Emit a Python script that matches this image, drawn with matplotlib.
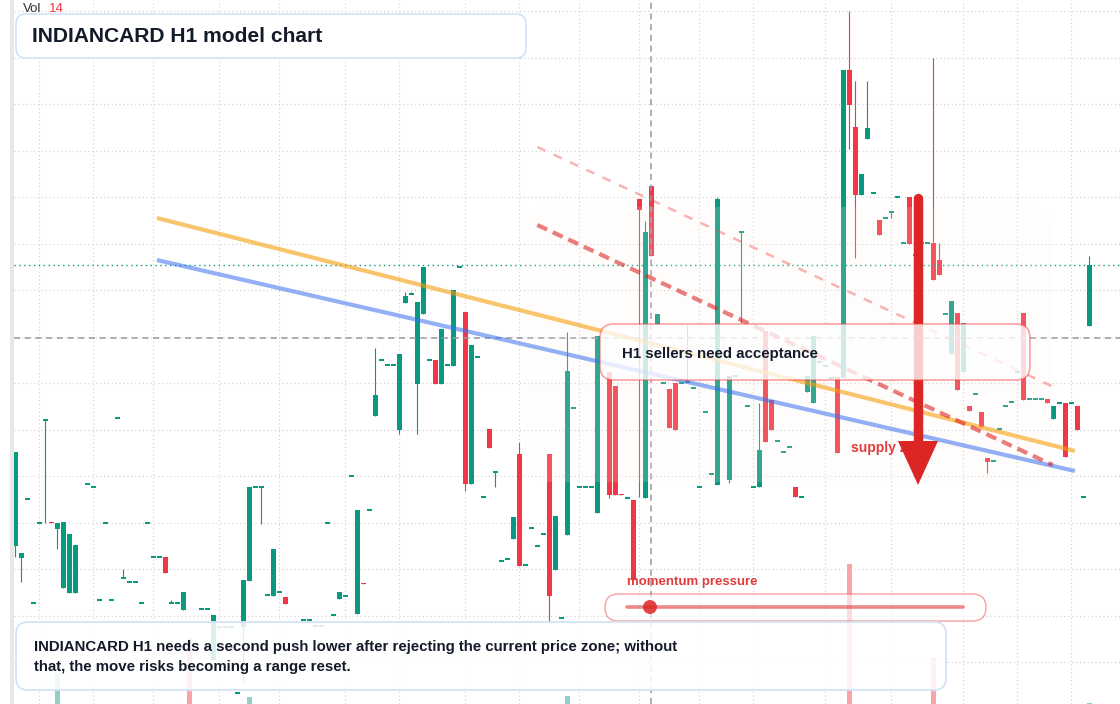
import matplotlib
matplotlib.use("Agg")
import matplotlib.pyplot as plt
import numpy as np
from matplotlib.patches import FancyBboxPatch, Polygon, Rectangle, Circle
from matplotlib.transforms import IdentityTransform
from matplotlib.colors import to_rgba

plt.rcParams['font.family'] = ['Liberation Sans', 'DejaVu Sans']

nan = np.nan

# H1 candles (price units)
opens = [295.4, 294.2, 300.1, 289.7, 297.7, 308.0, 297.8, 297.1, 291.2, 290.7,
         290.7, nan, 301.6, 301.3, 290.0, 297.7, 290.0, 308.2, 292.2, 291.8,
         291.8, 289.7, 297.7, 294.3, 294.3, 294.3, 289.7, 289.7, 289.0, nan,
         nan, 289.1, 289.1, 284.0, 287.3, 287.3, 287.3, 280.7, 287.3, 291.9,
         301.3, 301.3, 290.5, 290.4, 290.8, 290.3, nan, nan, 288.0, 288.0,
         287.4, 287.4, 297.7, 288.5, 290.1, 290.4, 302.4, 288.6, 291.7, 299.0,
         308.4, 314.0, 313.5, 313.5, 307.0, 319.7, 320.6, 311.6, 318.6, 314.0,
         314.0, 311.6, 313.5, 313.4, 323.3, 318.8, 301.6, 314.3, 300.3, 307.1,
         302.8, 293.9, 294.1, 296.1, 304.6, 293.5, 297.2, 295.4, 296.6, 304.6,
         293.0, 288.2, 296.5, 309.2, 301.3, 301.3, 301.3, 298.7, nan, 312.8,
         311.4, 300.6, 300.2, 300.0, 330.1, 300.2, 331.4, 317.5, 311.7, 311.1,
         311.7, 311.7, 311.8, 311.2, 301.3, 308.8, 302.6, 301.5, nan, 302.0,
         312.4, 326.8, 309.4, 301.3, 301.3, 316.9, 310.0, 305.9, 304.8, 305.3,
         301.3, 300.3, 310.8, 309.7, 313.8, 313.4, 312.2, 312.3, 312.2, 343.0,
         337.3, 330.5, 336.1, 330.7, 328.0, 328.2, 328.8, 330.3, 325.7, 330.3,
         324.5, 325.7, 325.7, 325.7, 324.0, 318.6, 314.6, 318.7, 312.8, 309.4,
         310.6, 308.8, 304.2, 303.9, 307.1, 309.4, 309.8, 312.8, 318.7, 310.1,
         310.1, 310.1, 310.1, 308.1, 309.7, 309.7, 309.7, 309.4, 300.3, 317.4]

highs = [304.8, 294.7, 300.1, 289.7, 297.7, 308.0, 297.8, 297.7, 297.8, 296.6,
         295.5, nan, 301.6, 301.3, 290.0, 297.7, 290.0, 308.2, 293.1, 291.8,
         291.8, 289.7, 297.7, 294.3, 294.3, 294.3, 290.0, 289.7, 290.8, nan,
         nan, 289.1, 289.1, 288.5, 287.3, 287.3, 287.3, 280.7, 292.0, 301.3,
         301.3, 301.3, 290.5, 295.1, 290.8, 290.3, nan, nan, 288.0, 288.0,
         287.4, 287.4, 297.7, 288.5, 290.8, 290.4, 302.4, 299.0, 291.7, 299.0,
         315.2, 314.0, 313.5, 313.5, 314.6, 320.8, 320.8, 319.8, 323.3, 314.0,
         314.0, 317.1, 313.5, 321.0, 323.3, 318.8, 315.5, 314.3, 300.3, 307.1,
         302.8, 293.9, 294.1, 298.3, 305.8, 293.5, 297.2, 295.4, 296.6, 304.6,
         298.4, 288.2, 316.8, 309.2, 301.3, 301.3, 301.3, 316.4, nan, 312.8,
         311.4, 300.6, 300.2, 300.0, 330.1, 327.9, 331.4, 318.6, 311.7, 311.1,
         311.7, 311.7, 317.5, 311.2, 301.3, 308.8, 302.6, 330.3, nan, 312.4,
         312.4, 326.8, 309.4, 301.3, 309.7, 316.9, 310.0, 305.9, 304.8, 305.3,
         301.3, 300.3, 312.4, 316.4, 313.8, 313.4, 312.2, 312.3, 343.0, 348.9,
         341.9, 332.6, 341.9, 330.7, 328.0, 328.2, 328.8, 330.3, 325.7, 330.3,
         324.5, 325.7, 325.7, 344.2, 325.7, 318.6, 319.9, 318.7, 317.7, 309.4,
         310.6, 308.8, 304.2, 303.9, 307.1, 309.4, 309.8, 312.8, 318.7, 310.1,
         310.1, 310.1, 310.1, 309.4, 309.7, 309.7, 309.7, 309.4, 300.3, 324.4]

lows = [294.3, 291.8, 300.1, 289.7, 297.7, 297.7, 297.7, 295.1, 291.2, 290.7,
        290.7, nan, 301.6, 301.3, 290.0, 297.7, 290.0, 308.2, 292.2, 291.8,
        291.8, 289.7, 297.7, 294.3, 294.3, 292.7, 289.7, 289.7, 289.0, nan,
        nan, 289.1, 289.1, 284.0, 287.3, 287.3, 287.3, 280.7, 281.8, 291.9,
        301.3, 297.6, 290.5, 290.4, 290.8, 289.6, nan, nan, 288.0, 288.0,
        287.4, 287.4, 297.7, 288.5, 290.1, 290.4, 302.4, 288.6, 291.6, 299.0,
        308.4, 314.0, 313.5, 313.5, 306.6, 319.7, 320.6, 306.6, 318.6, 314.0,
        311.6, 311.6, 313.5, 313.4, 323.3, 300.9, 301.6, 314.3, 300.3, 305.2,
        301.3, 293.9, 294.1, 296.1, 293.4, 293.5, 297.2, 295.4, 296.6, 287.7,
        293.0, 288.2, 296.5, 309.2, 301.3, 301.3, 301.3, 298.7, nan, 300.2,
        300.5, 300.5, 300.2, 292.0, 300.3, 300.2, 324.4, 317.5, 311.7, 307.2,
        307.0, 311.7, 311.8, 311.2, 301.3, 308.8, 302.6, 301.5, nan, 301.7,
        312.4, 317.7, 309.4, 301.3, 301.3, 305.8, 307.0, 305.9, 304.8, 305.3,
        300.3, 300.3, 310.8, 309.7, 313.8, 313.4, 312.2, 304.7, 312.2, 335.1,
        324.2, 330.5, 336.1, 330.7, 326.5, 328.2, 328.2, 330.3, 325.7, 325.6,
        324.5, 325.7, 325.7, 322.0, 322.5, 318.6, 314.6, 311.0, 312.8, 308.9,
        310.6, 307.3, 302.7, 303.9, 307.1, 309.4, 309.8, 312.8, 310.0, 310.1,
        310.1, 310.1, 309.7, 308.1, 309.7, 304.3, 309.7, 307.0, 300.3, 317.4]

closes = [304.8, 294.7, 300.1, 289.7, 297.7, 308.0, 297.7, 297.7, 297.8, 296.6,
          295.5, nan, 301.6, 301.3, 290.0, 297.7, 290.0, 308.2, 292.2, 291.8,
          291.8, 289.7, 297.7, 294.3, 294.3, 292.7, 289.7, 289.7, 290.8, nan,
          nan, 289.1, 289.1, 288.5, 287.3, 287.3, 287.3, 280.7, 292.0, 301.3,
          301.3, 301.3, 290.5, 295.1, 290.8, 289.6, nan, nan, 288.0, 288.0,
          287.4, 287.4, 297.7, 288.5, 290.8, 290.4, 302.4, 299.0, 291.6, 299.0,
          310.5, 314.0, 313.5, 313.5, 314.6, 320.4, 320.6, 319.8, 323.3, 314.0,
          311.6, 317.1, 313.5, 321.0, 323.3, 301.6, 315.5, 314.3, 300.3, 305.2,
          302.8, 293.9, 294.1, 298.3, 293.4, 293.5, 297.2, 295.4, 296.6, 290.4,
          298.4, 288.2, 312.9, 309.2, 301.3, 301.3, 301.3, 316.4, nan, 300.5,
          300.5, 300.5, 300.2, 292.0, 329.0, 326.8, 324.4, 318.6, 311.7, 307.2,
          307.0, 311.7, 311.8, 311.2, 301.3, 308.8, 302.6, 330.1, nan, 312.4,
          312.4, 326.8, 309.4, 301.3, 305.0, 305.8, 307.0, 305.9, 304.8, 305.3,
          300.3, 300.3, 312.4, 316.4, 313.8, 313.4, 312.2, 304.7, 343.0, 339.5,
          330.5, 332.6, 337.2, 330.7, 326.5, 328.2, 328.8, 330.3, 325.7, 325.6,
          324.5, 325.7, 325.7, 322.0, 322.5, 318.6, 319.9, 311.0, 317.7, 308.9,
          310.6, 307.3, 303.8, 303.9, 307.1, 309.4, 309.8, 312.8, 310.0, 310.1,
          310.1, 310.1, 309.7, 309.4, 309.7, 304.3, 309.7, 307.0, 300.3, 323.5]

# volume (only the bars that show)
vol_index = [7, 29, 39, 92, 139, 153, 179]
vol_value = [443, 943, 100, 114, 2000, 671, 14]

# drawn levels
trend_x = [23.6, 176.6]
orange_y = [328.2, 304.9]
blue_y = [324.0, 302.9]
dash_x = [87.0, 172.9]
dash_y = [327.5, 303.5]
dash2_x = [87.0, 172.7]
dash2_y = [335.3, 311.4]
cross_idx = 106
cross_price = 316.2

vgrid_idx = [4, 13, 23, 34, 44, 55, 64, 75, 84, 94, 104, 114, 123, 135, 146, 158, 167, 176]

GREEN = '#089981'
RED = '#f23645'
INK = '#131a2a'

W, H = 1120, 704
PX = IdentityTransform()

fig = plt.figure(figsize=(W / 100, H / 100), dpi=100)
fig.patch.set_facecolor('white')
ax = fig.add_axes([14 / W, 0, 1 - 14 / W, 1])
vax = ax.twinx()
ax.set_zorder(2)
vax.set_zorder(1)
ax.patch.set_visible(False)

o = np.array(opens)
h = np.array(highs)
l = np.array(lows)
c = np.array(closes)
x = np.arange(len(o))
ok = ~np.isnan(o)
col = np.where(c >= o, GREEN, RED)

# wicks + bodies
ax.vlines(x[ok], l[ok], h[ok], colors=col[ok], lw=0.8, zorder=2)
body = np.abs(c - o)
bh = np.maximum(body, 0.18)
ax.bar(x[ok], bh[ok], bottom=(np.minimum(o, c) - (bh - body) / 2)[ok], width=0.78,
       color=col[ok], linewidth=0, zorder=2.1)

# volume
vcol = [GREEN if c[i] >= o[i] else RED for i in vol_index]
vax.bar(vol_index, vol_value, width=0.78, color=vcol, alpha=0.45, linewidth=0)
vax.set_ylim(0, max(vol_value) * H / 140)
vax.axis('off')

# grid + crosshair + last price
ax.set_xticks(vgrid_idx)
ax.set_yticks(348.9 - 4.65 * np.arange(15))
ax.grid(True, color='#cfcfcf', lw=0.8, linestyle=(0, (1, 2.5)))
ax.set_axisbelow(True)
ax.tick_params(length=0, labelleft=False, labelbottom=False)
for s in ax.spines.values():
    s.set_visible(False)
ax.axhline(cross_price, color='#9598a1', lw=1.1, linestyle=(0, (4, 3)), zorder=2.5)
ax.axvline(cross_idx, color='#9598a1', lw=1.1, linestyle=(0, (4, 3)), zorder=2.5)
ax.axhline(c[-1], color=GREEN, lw=1.0, linestyle=(0, (1, 2.5)), zorder=2.5)


def box(x0, y0, x1, y1, r, fc, ec, lw, z):
    p = FancyBboxPatch((x0, H - y1), x1 - x0, y1 - y0,
                       boxstyle=f"round,pad=0,rounding_size={r}",
                       transform=PX, fc=fc, ec=ec, lw=lw, zorder=z, clip_on=False)
    ax.add_artist(p)


def txt(x0, y0, s, size, color, weight='bold', z=10):
    ax.text(x0, H - y0, s, transform=PX, fontsize=size, color=color,
            fontweight=weight, va='center', ha='left', zorder=z)


# faint zone
box(525, 207, 1052, 482, 24, to_rgba('#fff3ea', 0.16), 'none', 0, 3)

# trend lines
ax.plot(trend_x, orange_y, color='#f59e0b', alpha=0.6, lw=3, solid_capstyle='butt', zorder=4)
ax.plot(trend_x, blue_y, color='#3b6ff0', alpha=0.55, lw=3, solid_capstyle='butt', zorder=4)
ax.plot(dash_x, dash_y, color='#dc2626', alpha=0.6, lw=3, linestyle=(0, (2.6, 1.5)), zorder=4)
ax.plot(dash2_x, dash2_y, color='#ef4444', alpha=0.4, lw=1.8, linestyle=(0, (3.6, 3.6)), zorder=4)

# supply zone + arrow
txt(851, 448, 'supply zone', 10, '#e03c3c', z=5)
ax.plot([918, 918], [H - 198, H - 445], transform=PX, color='#dc2626', lw=6.8,
        solid_capstyle='round', zorder=6)
ax.add_artist(Polygon([(898, H - 441), (938, H - 441), (918, H - 485)], closed=True,
                      transform=PX, color='#dc2626', lw=0, zorder=6, clip_on=False))

# sellers box
box(600, 324, 1030, 380, 14, to_rgba('white', 0.78), to_rgba('#ef4444', 0.5), 1.2, 7)
txt(622, 354, 'H1 sellers need acceptance', 10.8, INK, z=8)

# momentum slider
txt(627, 582, 'momentum pressure', 9.5, '#e03c3c', z=8)
box(605, 594, 986, 621, 13.5, to_rgba('white', 0.6), to_rgba('#ef4444', 0.5), 1.0, 7)
ax.plot([627, 963], [H - 607, H - 607], transform=PX, color='#dc2626', alpha=0.55,
        lw=2.6, solid_capstyle='round', zorder=8)
ax.add_artist(Circle((650, H - 607), 7, transform=PX, color='#dc2626', alpha=0.85,
                     lw=0, zorder=9, clip_on=False))

# bottom note
box(16, 622, 946, 690, 12, to_rgba('white', 0.86), '#d4e2f8', 1.3, 9)
txt(34, 647, 'INDIANCARD H1 needs a second push lower after rejecting the current price zone; without', 10.8, INK)
txt(34, 667, 'that, the move risks becoming a range reset.', 10.8, INK)

# title
box(16, 14, 526, 58, 10, 'white', '#d4e2f8', 1.2, 9)
txt(32, 36, 'INDIANCARD H1 model chart', 15.1, INK)
txt(23, 9, 'Vol', 9.5, '#333333', weight='normal')
txt(49, 9, str(vol_value[-1]), 9.5, RED, weight='normal')

ax.set_xlim((14 - 15.3) / 6, (W - 15.3) / 6)
ax.set_ylim(279.6, 350.0)

fig.add_artist(Rectangle((9.5, 0), 4.5, H, transform=PX, color='#e8e8e8', lw=0))

fig.savefig('out.png', dpi=100, facecolor='white')
